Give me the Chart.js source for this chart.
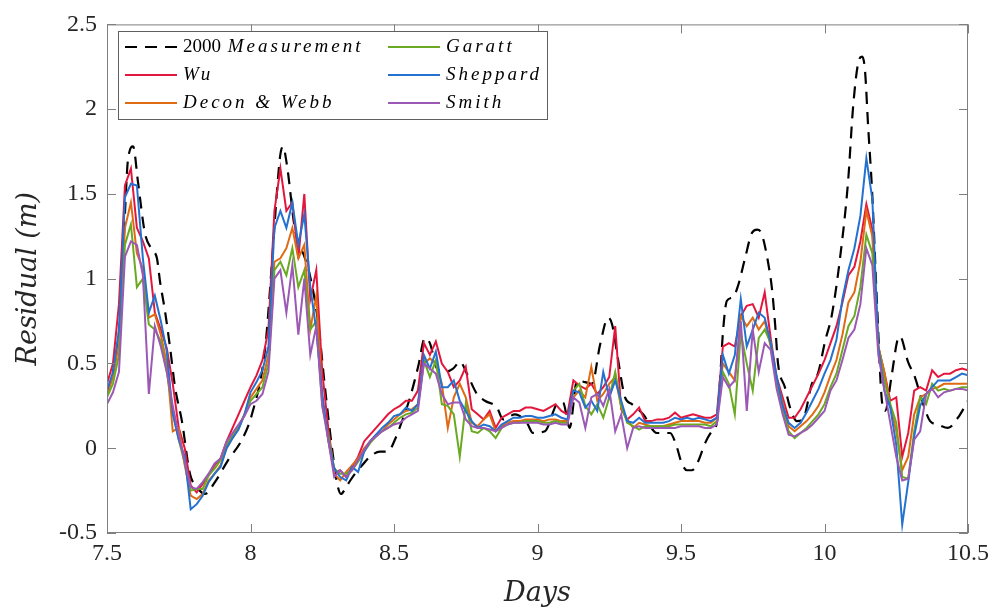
<!DOCTYPE html>
<html>
<head>
<meta charset="utf-8">
<title>Residual</title>
<script src="https://cdn.jsdelivr.net/npm/chart.js@4/dist/chart.umd.min.js"></script>
<style>
    html, body { margin: 0; padding: 0; background: #fff; }
    #wrap { width: 1000px; height: 614px; }
</style>
</head>
<body>
<div id="wrap"><canvas id="residual"></canvas></div>
<script>
// --- data: measurement (own time stamps) ---
const measDays = [7.500,7.521,7.538,7.549,7.563,7.573,7.591,7.608,7.632,7.657,
    7.674,7.685,7.702,7.720,7.737,7.761,7.789,7.814,7.841,7.876,
    7.922,7.970,8.005,8.051,8.075,8.092,8.103,8.113,8.127,8.155,
    8.190,8.207,8.235,8.260,8.284,8.301,8.315,8.336,8.364,8.389,
    8.416,8.451,8.479,8.503,8.528,8.556,8.584,8.608,8.625,8.650,
    8.678,8.706,8.730,8.754,8.789,8.817,8.859,8.880,8.922,8.963,
    8.984,9.026,9.068,9.089,9.112,9.138,9.166,9.190,9.218,9.246,
    9.260,9.280,9.305,9.329,9.368,9.416,9.462,9.483,9.503,9.521,
    9.538,9.559,9.584,9.608,9.625,9.636,9.646,9.660,9.681,9.699,
    9.723,9.747,9.765,9.782,9.803,9.817,9.828,9.838,9.862,9.880,
    9.904,9.925,9.956,9.977,10.002,10.026,10.054,10.082,10.099,10.117,
    10.131,10.141,10.152,10.166,10.183,10.200,10.211,10.235,10.253,10.263,
    10.291,10.315,10.340,10.368,10.395,10.430,10.465,10.500];
const measVals = [0.33,0.45,0.62,0.85,1.40,1.70,1.78,1.57,1.27,1.17,
    1.12,0.98,0.81,0.59,0.36,0.16,-0.15,-0.23,-0.27,-0.20,
    -0.07,0.05,0.20,0.59,1.10,1.51,1.72,1.78,1.67,1.29,
    1.12,1.02,0.75,0.35,0.00,-0.20,-0.27,-0.22,-0.15,-0.10,
    -0.05,-0.02,-0.02,0.05,0.16,0.30,0.48,0.65,0.62,0.47,
    0.45,0.47,0.51,0.44,0.32,0.28,0.24,0.17,0.20,0.15,
    0.09,0.10,0.26,0.27,0.12,0.40,0.39,0.38,0.61,0.77,
    0.73,0.53,0.30,0.26,0.20,0.09,0.09,0.02,-0.09,-0.13,
    -0.13,-0.08,0.03,0.10,0.15,0.40,0.68,0.87,0.89,0.96,
    1.12,1.27,1.29,1.26,1.10,0.94,0.73,0.50,0.36,0.24,
    0.16,0.17,0.38,0.44,0.63,0.79,1.12,1.57,2.00,2.27,
    2.31,2.23,1.90,1.51,0.85,0.28,0.22,0.44,0.63,0.66,
    0.51,0.42,0.28,0.16,0.14,0.12,0.18,0.28];

// --- data: model runs, half-hourly from day 7.5 to 10.5 ---
const modelStart = 7.5;
const modelStep = 1 / 48;

const wu = [0.38,0.50,0.85,1.55,1.65,1.30,1.22,1.12,0.80,0.70,
    0.59,0.38,0.12,0.00,-0.22,-0.26,-0.21,-0.16,-0.10,-0.06,
    0.04,0.12,0.20,0.28,0.36,0.43,0.52,0.70,1.40,1.65,
    1.40,1.45,1.12,1.50,0.88,1.05,0.45,0.12,-0.14,-0.13,
    -0.17,-0.11,-0.05,0.04,0.08,0.12,0.16,0.20,0.23,0.25,
    0.28,0.28,0.34,0.62,0.55,0.63,0.50,0.45,0.36,0.40,
    0.48,0.23,0.20,0.17,0.22,0.12,0.18,0.20,0.22,0.22,
    0.24,0.24,0.23,0.22,0.24,0.26,0.22,0.20,0.40,0.37,
    0.35,0.38,0.32,0.36,0.42,0.72,0.23,0.17,0.20,0.24,
    0.16,0.16,0.17,0.17,0.18,0.21,0.18,0.19,0.20,0.19,
    0.18,0.18,0.20,0.60,0.62,0.60,0.78,0.84,0.85,0.77,
    0.92,0.65,0.42,0.30,0.18,0.18,0.23,0.30,0.37,0.44,
    0.52,0.62,0.72,0.86,1.02,1.07,1.22,1.44,1.29,0.60,
    0.45,0.28,0.30,-0.05,0.09,0.34,0.36,0.34,0.46,0.42,
    0.44,0.44,0.46,0.47,0.46];

const deconWebb = [0.31,0.42,0.62,1.30,1.45,1.15,1.06,0.77,0.79,0.67,
    0.50,0.10,0.12,-0.10,-0.28,-0.30,-0.27,-0.19,-0.15,-0.10,
    0.00,0.06,0.12,0.20,0.30,0.35,0.40,0.55,1.10,1.12,
    1.18,1.30,1.12,1.20,0.70,0.90,0.30,0.05,-0.15,-0.19,
    -0.14,-0.10,-0.06,0.00,0.04,0.08,0.10,0.14,0.17,0.20,
    0.22,0.23,0.26,0.50,0.53,0.50,0.38,0.12,0.30,0.38,
    0.30,0.15,0.13,0.17,0.20,0.10,0.13,0.15,0.16,0.16,
    0.17,0.17,0.17,0.16,0.17,0.17,0.16,0.16,0.30,0.34,
    0.30,0.48,0.28,0.32,0.38,0.42,0.24,0.17,0.12,0.15,
    0.14,0.13,0.13,0.13,0.14,0.15,0.16,0.16,0.16,0.16,
    0.15,0.15,0.18,0.50,0.45,0.40,0.78,0.72,0.77,0.70,
    0.75,0.60,0.40,0.27,0.13,0.10,0.13,0.16,0.20,0.25,
    0.33,0.43,0.52,0.67,0.86,0.92,1.10,1.40,1.25,0.60,
    0.45,0.25,0.10,-0.13,-0.05,0.20,0.30,0.32,0.35,0.36,
    0.38,0.38,0.38,0.38,0.38];

const garatt = [0.30,0.38,0.55,1.20,1.32,0.95,1.00,0.73,0.70,0.63,
    0.45,0.22,0.05,-0.09,-0.25,-0.24,-0.24,-0.16,-0.12,-0.07,
    0.02,0.08,0.13,0.20,0.28,0.32,0.36,0.50,1.05,1.10,
    1.02,1.18,0.95,1.05,0.70,0.75,0.25,0.08,-0.12,-0.15,
    -0.15,-0.13,-0.08,-0.02,0.03,0.07,0.10,0.12,0.15,0.18,
    0.20,0.21,0.24,0.52,0.42,0.52,0.26,0.25,0.20,-0.05,
    0.26,0.10,0.09,0.12,0.10,0.06,0.12,0.14,0.15,0.15,
    0.16,0.16,0.16,0.15,0.15,0.16,0.15,0.15,0.34,0.38,
    0.25,0.20,0.26,0.18,0.30,0.45,0.25,0.15,0.13,0.11,
    0.13,0.13,0.13,0.13,0.13,0.14,0.14,0.14,0.14,0.14,
    0.14,0.13,0.16,0.45,0.38,0.20,0.68,0.50,0.34,0.65,
    0.70,0.62,0.38,0.23,0.10,0.06,0.09,0.12,0.16,0.20,
    0.26,0.36,0.44,0.58,0.72,0.78,0.95,1.26,1.15,0.60,
    0.40,0.26,0.15,-0.17,-0.18,0.10,0.30,0.26,0.38,0.34,
    0.35,0.34,0.35,0.36,0.36];

const sheppard = [0.34,0.45,0.70,1.48,1.56,1.55,1.12,0.80,0.90,0.75,
    0.57,0.20,0.05,-0.05,-0.36,-0.33,-0.28,-0.20,-0.15,-0.11,
    0.00,0.06,0.11,0.20,0.33,0.39,0.46,0.60,1.30,1.40,
    1.30,1.45,1.20,1.38,0.95,0.70,0.32,0.05,-0.12,-0.17,
    -0.19,-0.11,-0.14,-0.02,0.04,0.08,0.12,0.15,0.19,0.20,
    0.24,0.22,0.26,0.55,0.47,0.57,0.36,0.36,0.40,0.28,
    0.22,0.16,0.12,0.14,0.13,0.10,0.14,0.16,0.18,0.18,
    0.19,0.19,0.18,0.18,0.19,0.20,0.18,0.17,0.34,0.33,
    0.24,0.28,0.22,0.45,0.30,0.40,0.28,0.16,0.15,0.18,
    0.15,0.15,0.15,0.15,0.16,0.18,0.17,0.18,0.17,0.18,
    0.17,0.16,0.18,0.55,0.44,0.55,0.88,0.60,0.70,0.80,
    0.77,0.62,0.42,0.25,0.15,0.12,0.15,0.21,0.28,0.35,
    0.44,0.52,0.64,0.88,1.05,1.18,1.37,1.71,1.47,0.60,
    0.34,0.24,0.02,-0.45,-0.20,0.07,0.25,0.32,0.36,0.40,
    0.40,0.40,0.42,0.44,0.43];

const smith = [0.26,0.33,0.45,1.13,1.22,1.20,1.02,0.32,0.72,0.60,
    0.45,0.25,0.08,-0.08,-0.23,-0.24,-0.20,-0.15,-0.09,-0.06,
    0.04,0.09,0.14,0.19,0.26,0.28,0.32,0.45,1.00,1.05,
    0.80,1.08,0.67,1.00,0.55,0.72,0.25,0.05,-0.17,-0.13,
    -0.17,-0.13,-0.07,-0.01,0.04,0.07,0.10,0.12,0.14,0.15,
    0.18,0.20,0.22,0.50,0.47,0.44,0.32,0.26,0.27,0.27,
    0.17,0.13,0.12,0.12,0.11,0.10,0.12,0.14,0.15,0.15,
    0.15,0.15,0.15,0.14,0.14,0.15,0.14,0.14,0.30,0.27,
    0.12,0.30,0.32,0.25,0.35,0.10,0.20,0.00,0.12,0.13,
    0.12,0.12,0.12,0.12,0.12,0.12,0.13,0.13,0.13,0.13,
    0.12,0.12,0.14,0.42,0.36,0.40,0.75,0.22,0.70,0.45,
    0.62,0.58,0.35,0.20,0.08,0.07,0.09,0.11,0.14,0.18,
    0.22,0.34,0.40,0.52,0.65,0.70,0.85,1.18,1.08,0.55,
    0.35,0.15,-0.05,-0.19,-0.18,0.05,0.10,0.32,0.35,0.30,
    0.33,0.34,0.35,0.35,0.34];

// --- axes ---
const xTicks = [7.5, 8, 8.5, 9, 9.5, 10, 10.5];
const yTicks = [-0.5, 0, 0.5, 1, 1.5, 2, 2.5];

// --- helpers ---
function toPoints(xs, ys) {
    return ys.map((y, i) => ({ x: xs[i], y: y }));
}
function modelPoints(ys) {
    return ys.map((y, i) => ({ x: modelStart + i * modelStep, y: y }));
}
function modelLine(label, values, color, order) {
    return {
        label: label,
        data: modelPoints(values),
        borderColor: color,
        borderWidth: 2,
        pointRadius: 0,
        tension: 0,
        order: order
    };
}

const AXIS_GREY = '#7f7f7f';
const TICK_LEN = 9;

// --- plugin: MATLAB-style box, inward ticks and the two-column legend ---
const matlabFrame = {
    id: 'matlabFrame',
    afterDraw(chart) {
        const { ctx, chartArea: a, scales } = chart;
        ctx.save();
        ctx.strokeStyle = AXIS_GREY;
        ctx.lineWidth = 1;
        ctx.strokeRect(a.left + 0.5, a.top + 0.5, a.right - a.left - 1, a.bottom - a.top - 1);

        ctx.beginPath();
        xTicks.forEach(v => {
            const px = Math.round(scales.x.getPixelForValue(v)) + 0.5;
            ctx.moveTo(px, a.bottom); ctx.lineTo(px, a.bottom - TICK_LEN);
            ctx.moveTo(px, a.top); ctx.lineTo(px, a.top + TICK_LEN);
        });
        yTicks.forEach(v => {
            const py = Math.round(scales.y.getPixelForValue(v)) + 0.5;
            ctx.moveTo(a.left, py); ctx.lineTo(a.left + TICK_LEN, py);
            ctx.moveTo(a.right, py); ctx.lineTo(a.right - TICK_LEN, py);
        });
        ctx.stroke();

        // legend
        const box = { left: 118, top: 31, right: 547, bottom: 119 };
        ctx.fillStyle = '#fff';
        ctx.fillRect(box.left, box.top, box.right - box.left, box.bottom - box.top);
        ctx.strokeStyle = '#5f5f5f';
        ctx.strokeRect(box.left + 0.5, box.top + 0.5, box.right - box.left, box.bottom - box.top);

        const cols = [125, 388];
        const rowY = [47, 75, 103];
        const sample = 52;
        const ds = chart.data.datasets;
        ds.forEach((d, i) => {
            const col = Math.floor(i / 3);
            const row = i % 3;
            const x0 = cols[col];
            const y = rowY[row];
            ctx.strokeStyle = d.borderColor;
            ctx.lineWidth = d.borderWidth;
            ctx.setLineDash(d.borderDash || []);
            ctx.beginPath();
            ctx.moveTo(x0, y); ctx.lineTo(x0 + sample, y);
            ctx.stroke();
            ctx.setLineDash([]);

            let tx = x0 + sample + 6;
            ctx.fillStyle = '#000';
            ctx.textBaseline = 'middle';
            let text = d.label;
            const m = text.match(/^(\d+\s)(.*)$/);
            if (m) {
                ctx.font = '19px "Liberation Serif"';
                ctx.letterSpacing = '0px';
                ctx.fillText(m[1], tx, y);
                tx += ctx.measureText(m[1]).width + 2;
                text = m[2];
            }
            ctx.font = 'italic 19px "Liberation Serif"';
            ctx.letterSpacing = '3px';
            ctx.fillText(text, tx, y);
            ctx.letterSpacing = '0px';
        });
        ctx.restore();
    }
};

// --- chart ---
const tickFont = { family: '"Liberation Serif", serif', size: 24 };
const titleFont = { family: '"DejaVu Serif", serif', size: 27, style: 'italic' };

new Chart(document.getElementById('residual'), {
    type: 'line',
    data: {
        datasets: [
            {
                label: '2000 Measurement',
                data: toPoints(measDays, measVals),
                borderColor: '#000',
                borderWidth: 2.2,
                borderDash: [12, 8],
                pointRadius: 0,
                cubicInterpolationMode: 'monotone',
                order: 7
            },
            modelLine('Wu', wu, '#e3173d', 6),
            modelLine('Decon & Webb', deconWebb, '#df6a13', 5),
            modelLine('Garatt', garatt, '#6aa922', 4),
            modelLine('Sheppard', sheppard, '#2471d0', 3),
            modelLine('Smith', smith, '#9c58b5', 2)
        ]
    },
    options: {
        responsive: true,
        maintainAspectRatio: false,
        animation: false,
        layout: { padding: { top: 20, right: 32, left: 0, bottom: 0 } },
        plugins: {
            legend: { display: false },
            tooltip: { enabled: false }
        },
        scales: {
            x: {
                type: 'linear',
                min: 7.5,
                max: 10.5,
                afterBuildTicks: s => { s.ticks = xTicks.map(v => ({ value: v })); },
                afterFit: s => { s.height = 81; },
                grid: { display: false, drawTicks: false },
                border: { display: false },
                ticks: { font: tickFont, color: '#262626', padding: 6, maxRotation: 0, callback: v => String(v) },
                title: { display: true, text: 'Days', font: titleFont, color: '#262626', padding: { top: 4, bottom: 4 } }
            },
            y: {
                type: 'linear',
                min: -0.5,
                max: 2.5,
                afterBuildTicks: s => { s.ticks = yTicks.map(v => ({ value: v })); },
                afterFit: s => { s.width = 107; },
                grid: { display: false, drawTicks: false },
                border: { display: false },
                ticks: { font: tickFont, color: '#262626', padding: 10, callback: v => String(v) },
                title: { display: true, text: 'Residual (m)', font: titleFont, color: '#262626', padding: { top: 13, bottom: 0 } }
            }
        }
    },
    plugins: [matlabFrame]
});
</script>
</body>
</html>
